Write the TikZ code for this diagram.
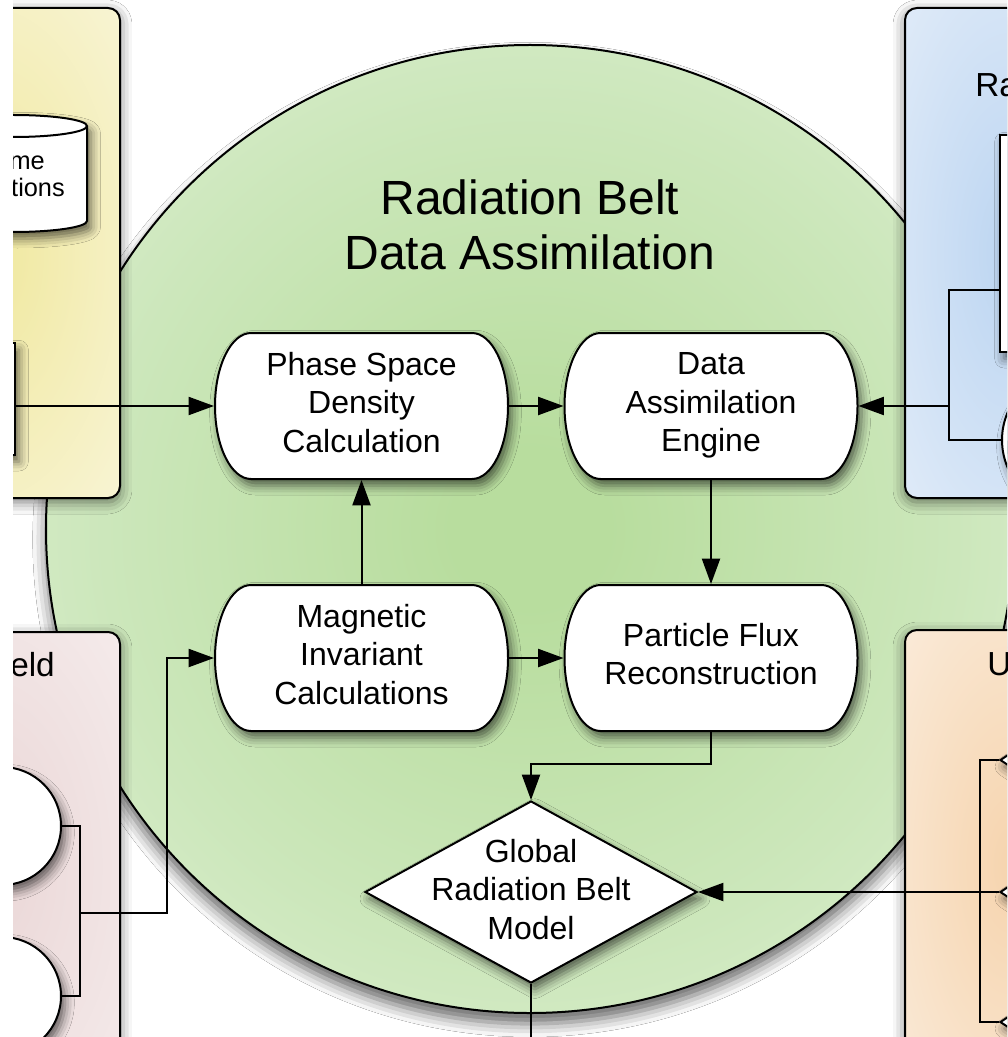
\documentclass[tikz,border=0pt]{standalone}
\usepackage{fontspec}
\setmainfont{Liberation Sans}
\usetikzlibrary{shapes.geometric,arrows.meta,shadows,shadows.blur,calc}

% fills
\definecolor{beltcore}{RGB}{184,221,158}
\definecolor{beltmid}{RGB}{204,231,187}
\definecolor{beltrim}{RGB}{230,242,222}
\definecolor{sunin}{RGB}{240,232,158}
\definecolor{sunout}{RGB}{251,249,233}
\definecolor{skyin}{RGB}{188,213,241}
\definecolor{skyout}{RGB}{237,243,251}
\definecolor{rosein}{RGB}{234,214,214}
\definecolor{roseout}{RGB}{249,243,243}
\definecolor{peachin}{RGB}{246,212,174}
\definecolor{peachout}{RGB}{252,243,233}

\pgfdeclareradialshading{beltglow}{\pgfpoint{0bp}{0bp}}{color(0bp)=(beltcore); color(4bp)=(beltcore); color(22bp)=(beltmid); color(40bp)=(beltrim); color(50bp)=(beltrim)}
\pgfdeclareradialshading{sunglow}{\pgfpoint{0bp}{0bp}}{color(0bp)=(sunin); color(50bp)=(sunout)}
\pgfdeclareradialshading{skyglow}{\pgfpoint{0bp}{0bp}}{color(0bp)=(skyin); color(50bp)=(skyout)}
\pgfdeclareradialshading{roseglow}{\pgfpoint{0bp}{0bp}}{color(0bp)=(rosein); color(50bp)=(roseout)}
\pgfdeclareradialshading{peachglow}{\pgfpoint{0bp}{0bp}}{color(0bp)=(peachin); color(50bp)=(peachout)}

% white process box with half-elliptic ends, centred at (#1,#2)
\newcommand\capsuleoutline[2]{%
  \filldraw[whiteshape] ({#1-110.5},{#2+73}) -- ({#1+110.5},{#2+73})
    arc[start angle=90,end angle=-90,x radius=27pt,y radius=54.75pt]
    -- ({#1-110.5},{#2-73})
    arc[start angle=270,end angle=90,x radius=27pt,y radius=54.75pt] -- cycle;}

\begin{document}
\begin{tikzpicture}[x=0.75pt, y=0.75pt,
  wire/.style={line width=1.5pt, draw=black},
  flow/.style={wire, -{Triangle[length=19pt,width=13.5pt]}},
  softshadow/.style={blur shadow={shadow xshift=3pt, shadow yshift=-5pt, shadow blur radius=7pt, shadow opacity=60}},
  panel/.style={draw=black, line width=1.5pt, rounded corners=9pt,
    blur shadow={shadow xshift=0pt, shadow yshift=-3pt, shadow blur radius=9pt, shadow opacity=55}},
  whiteshape/.style={fill=white, draw=black, line width=1.5pt, softshadow},
  boxtext/.style={font=\fontsize{24pt}{28.875pt}\selectfont, align=center, text depth=6pt, inner sep=0pt, outer sep=0.75pt},
  capsule/.style={boxtext, rectangle, minimum width=219.75pt, minimum height=109.5pt},
  paneltitle/.style={font=\fontsize{25pt}{30pt}\selectfont, inner sep=0pt},
  smalltext/.style={font=\fontsize{19pt}{22pt}\selectfont, inner sep=0pt}]

\useasboundingbox (0,0) rectangle (1007,-1037);
\fill[white] (0,0) rectangle (1007,-1037);
\clip (13,0) rectangle (1007,-1037);

% the assimilation disc
\shadedraw[shading=beltglow, draw=black, line width=1.5pt,
  blur shadow={shadow xshift=0pt, shadow yshift=-8pt, shadow blur radius=10pt, shadow opacity=60}]
  (530,-529) circle[radius=363pt];

% surrounding panels
\shadedraw[panel, shading=sunglow]   (-140,-8)   rectangle (120,-498);
\shadedraw[panel, shading=skyglow]   (905,-8)    rectangle (1115,-498);
\shadedraw[panel, shading=roseglow]  (-140,-632) rectangle (120,-1100);
\shadedraw[panel, shading=peachglow] (905,-630)  rectangle (1115,-1100);

% upper left panel: database and source box
\filldraw[whiteshape] (-60,-126) -- (-60,-221)
  arc[start angle=180,end angle=360,x radius=55.125pt,y radius=8.25pt]
  -- (87,-126)
  arc[start angle=0,end angle=180,x radius=55.125pt,y radius=8.25pt] -- cycle;
\draw[wire] (-60,-126) arc[start angle=180,end angle=360,x radius=55.125pt,y radius=8.25pt];
\node (rtA) [smalltext, anchor=base east] at (45,-170) {me};
\node (rtB) [smalltext, anchor=base east] at (65,-197) {tions};
\node (ylbox) [whiteshape, rectangle, minimum width=56.25pt, minimum height=84pt, inner sep=0pt] at (-22.5,-399) {};

% upper right panel
\node (rbtitle) [paneltitle, anchor=base west] at (975,-97) {Ra};
\node (rbbox) [whiteshape, rectangle, minimum width=112.5pt, minimum height=162.75pt, inner sep=0pt] at (1075,-243.5) {};
\node (rbell) [whiteshape, circle, minimum size=105pt, inner sep=0pt] at (1072,-440) {};
\coordinate (rbtap) at (1000,-290);
\coordinate (rbjoin) at (949,-406);

% lower left panel
\node (mftitle) [paneltitle, anchor=base east] at (55,-676) {eld};
\node (pc1) [whiteshape, circle, minimum size=88.5pt, inner sep=0pt] at (2,-826) {};
\node (pc2) [whiteshape, circle, minimum size=88.5pt, inner sep=0pt] at (2,-996) {};
\coordinate (pjoin) at (80,-913);
\coordinate (pbend) at (167,-913);

% lower right panel
\node (uptitle) [paneltitle, anchor=base west] at (987,-675) {U};
\node (ud1) [whiteshape, diamond, minimum width=90pt, minimum height=60pt, inner sep=0pt] at (1060,-760) {};
\node (ud2) [whiteshape, diamond, minimum width=90pt, minimum height=60pt, inner sep=0pt] at (1060,-892) {};
\node (ud3) [whiteshape, diamond, minimum width=90pt, minimum height=60pt, inner sep=0pt] at (1060,-1022) {};
\coordinate (ujoin) at (980,-892);

% disc title
\node (title) [font=\fontsize{36pt}{41.25pt}\selectfont, align=center, inner sep=0pt] at (530,-225) {Radiation Belt\\Data Assimilation};

% process boxes
\capsuleoutline{361.5}{-406}
\node (psd) [capsule] at (361.5,-406) {Phase Space\\Density\\Calculation};
\capsuleoutline{711}{-406}
\node (dae) [capsule] at (711,-406) {Data\\Assimilation\\Engine};
\capsuleoutline{361.5}{-658}
\node (mic) [capsule] at (361.5,-658) {Magnetic\\Invariant\\Calculations};
\capsuleoutline{711}{-658}
\node (pfr) [capsule] at (711,-658) {Particle Flux\\Reconstruction};

% model decision
\node (grbm) [whiteshape, diamond, minimum width=249pt, minimum height=136.5pt, inner sep=0pt] at (531,-892) {};
\node (grbmlabel) [boxtext] at (531,-893) {Global\\Radiation Belt\\Model};
\coordinate (grbmout) at (531,-1045);

% connectors
\draw[flow] (ylbox.east |- psd.west) -- (psd.west);
\draw[flow] (psd.east) -- (dae.west);
\draw[flow] (mic.north) -- (psd.south);
\draw[flow] (mic.east) -- (pfr.west);
\draw[flow] (dae.south) -- (pfr.north);
\draw[flow] (pfr.south) -- ++(0,-32) -| (grbm.north);
\draw[wire] (grbm.south) -- (grbmout);

\draw[wire] (rbtap) -| (rbjoin) |- (rbell.west);
\draw[flow] (rbjoin) -- (dae.east);

\draw[wire] (pc1.east) -| (pjoin) |- (pc2.east);
\draw[flow] (pjoin) -- (pbend) |- (mic.west);

\draw[wire] (ud1.west) -| (ujoin) |- (ud3.west);
\draw[wire] (ujoin) -- (ud2.west);
\draw[flow] (ujoin) -- (grbm.east);
\end{tikzpicture}
\end{document}
